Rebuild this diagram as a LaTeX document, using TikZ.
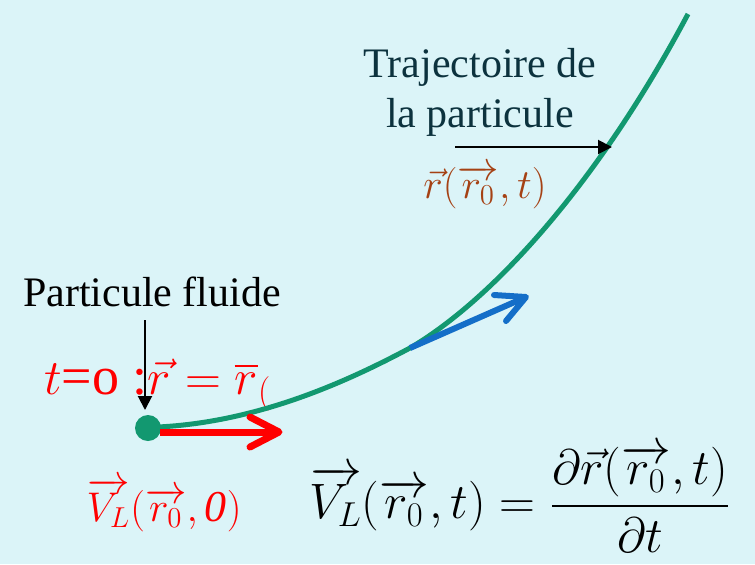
\documentclass[tikz,border=0pt]{standalone}
\usepackage{fontspec}
\setmainfont{Liberation Serif}
\usepackage{amsmath}
\usetikzlibrary{arrows.meta}
\definecolor{bgc}{RGB}{219,244,248}
\definecolor{traj}{RGB}{18,152,112}
\definecolor{bluev}{RGB}{20,110,200}
\definecolor{brownr}{RGB}{165,65,20}
\definecolor{darktxt}{RGB}{12,50,62}
\tikzset{
  lbl/.style={inner sep=0pt, font=\fontsize{21}{25}\selectfont},
  mth/.style={inner sep=0pt, font=\fontsize{22}{26}\selectfont},
  ptr/.style={black, line width=1pt, -{Triangle[length=7pt,width=7pt]}},
  chev/.style={line width=3.5pt, line cap=round, line join=round}
}
\begin{document}
\begin{tikzpicture}[x=0.5pt,y=-0.5pt]
\fill[bgc] (0,0) rectangle (755,564);
\useasboundingbox (0,0) rectangle (755,564);
% text labels
\node[lbl, text=darktxt, align=center] (traj) at (480,92) {Trajectoire de\\la particule};
\node[lbl, text=black] (pf) at (152,292) {Particule fluide};
% particle
\node[circle, fill=traj, minimum size=13pt, inner sep=0pt] (dot) at (148,428) {};
% red initial condition text, clipped
\begin{scope}
\clip (0,340) rectangle (271,420);
\node[mth, font=\fontsize{27}{30}\selectfont, text=red, anchor=base west] (t0) at (44,394) {$t$=o :$\vec r = \overline{r}_($};
\end{scope}
% trajectory
\draw[traj, line width=2.5pt] (158,427) .. controls (260,422) and (350,380) .. (410,348)
  .. controls (495,298) and (600,180) .. (688,14);
% red velocity arrow
\coordinate (rs) at (160,432);
\coordinate (rtip) at (279,432);
\draw[red, line width=3.5pt] (rs) -- (rtip);
\draw[red, chev] (250,417) -- (rtip) -- (250,447);
% blue tangent arrow
\coordinate (bstart) at (410,348);
\coordinate (btip) at (526,297);
\draw[bluev, line width=3pt] (bstart) -- (btip);
\draw[bluev, chev, line width=3pt] (494,295) -- (btip) -- (506,321);
% pointer arrows
\coordinate (pfs) at (145,320);
\coordinate (pft) at (145,410);
\draw[ptr] (pfs) -- (pft);
\coordinate (ts) at (455,147);
\coordinate (tt) at (612,147);
\draw[ptr] (ts) -- (tt);
% r label
\node[mth, text=brownr] (rlab) at (485,187) {$\vec r(\overrightarrow{r_0},t)$};
% V_L(r0,0)
\node[mth, text=red] (v0) at (164,505) {$\overrightarrow{V_L}(\overrightarrow{r_0},\mathit{0})$};
% equation
\node[mth, font=\fontsize{27}{32}\selectfont, text=black] (eq) at (520,499) {$\overrightarrow{V_L}(\overrightarrow{r_0},t) = \dfrac{\partial\vec r(\overrightarrow{r_0},t)}{\partial t}$};
\end{tikzpicture}
\end{document}
